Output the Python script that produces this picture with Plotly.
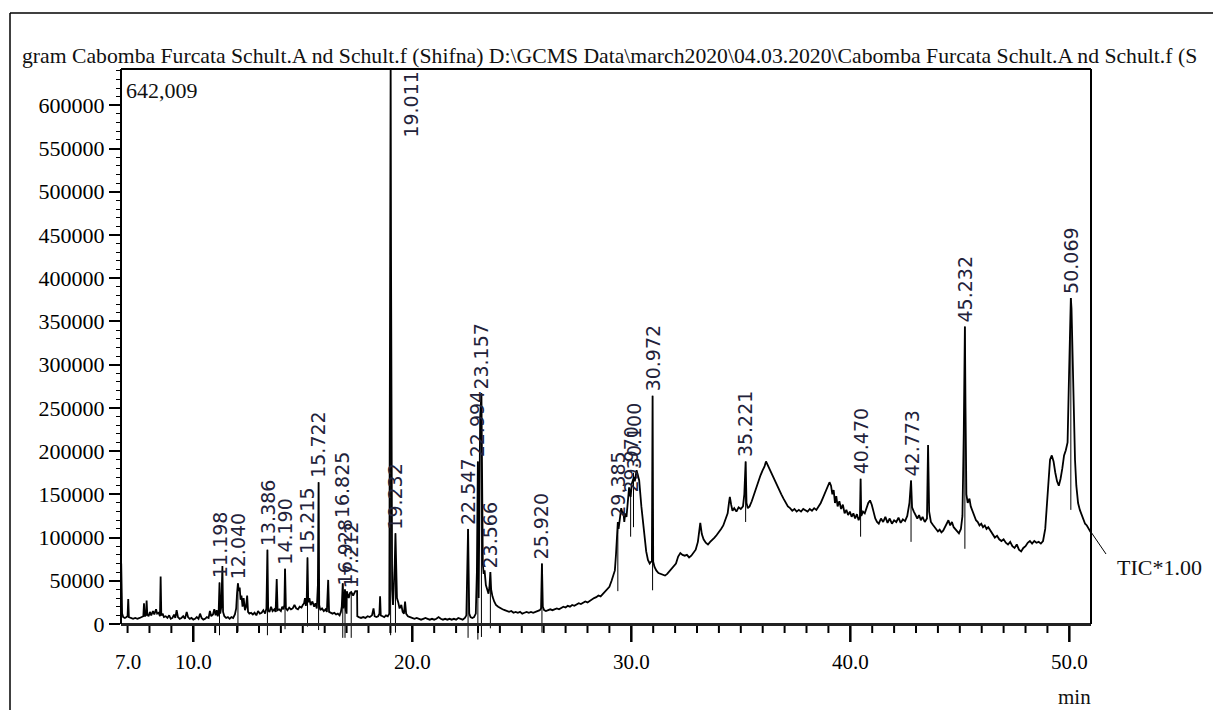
import plotly.graph_objects as go

# ---------------- data ----------------
# retention time (min) / TIC intensity (counts), split into segments
seg1_rt = [6.71, 6.73, 6.75, 6.80, 6.88, 6.95, 7.00, 7.03, 7.06, 7.15,
           7.25, 7.35, 7.45, 7.55, 7.65, 7.72, 7.75, 7.78, 7.84, 7.87,
           7.90, 7.96, 8.02, 8.08, 8.16, 8.22, 8.30, 8.35, 8.42, 8.48,
           8.51, 8.54, 8.60, 8.66, 8.74, 8.82, 8.90, 8.97, 9.05, 9.12,
           9.18, 9.24, 9.30, 9.38, 9.46, 9.54, 9.62, 9.70, 9.76, 9.84,
           9.92, 10.00, 10.08, 10.16, 10.24, 10.31, 10.38, 10.46, 10.54, 10.62,
           10.70, 10.76, 10.82, 10.90, 10.96, 11.02, 11.07, 11.12, 11.16, 11.198,
           11.23, 11.28, 11.33, 11.36, 11.42, 11.50]
seg1_int = [70000, 40000, 12000, 8000, 7000, 8000, 9000, 29000, 8000, 7000,
            6000, 7000, 6000, 7000, 8000, 9000, 24000, 9000, 10000, 27000,
            11000, 9000, 14000, 10000, 15000, 11000, 17000, 12000, 13000, 9000,
            55000, 10000, 12000, 8000, 9000, 7000, 10000, 6000, 7000, 11000,
            7000, 16000, 8000, 6000, 7000, 9000, 6000, 14000, 8000, 6000,
            7000, 5000, 6000, 8000, 6000, 12000, 7000, 5000, 6000, 8000,
            7000, 15000, 9000, 11000, 17000, 10000, 16000, 9000, 14000, 48000,
            12000, 20000, 67000, 14000, 9000, 7000]

seg2_rt = [11.58, 11.66, 11.74, 11.82, 11.90, 11.96, 12.00, 12.04, 12.08, 12.12,
           12.16, 12.20, 12.25, 12.30, 12.36, 12.41, 12.46, 12.50, 12.56, 12.64,
           12.72, 12.80, 12.88, 12.96, 13.04, 13.12, 13.20, 13.28, 13.34, 13.386,
           13.42, 13.48, 13.55, 13.62, 13.70, 13.76, 13.81, 13.85, 13.92, 14.00,
           14.06, 14.12, 14.16, 14.19, 14.23, 14.30, 14.38, 14.46, 14.54, 14.62,
           14.70, 14.78, 14.86, 14.94, 15.00, 15.06, 15.10, 15.14, 15.18, 15.215,
           15.25, 15.30, 15.36, 15.44, 15.52, 15.58, 15.64, 15.69, 15.722, 15.75]
seg2_int = [8000, 6000, 8000, 7000, 11000, 18000, 36000, 47000, 38000, 42000,
            28000, 33000, 20000, 30000, 16000, 20000, 33000, 14000, 12000, 13000,
            11000, 13000, 10000, 15000, 12000, 13000, 16000, 12000, 18000, 86000,
            16000, 14000, 20000, 15000, 17000, 14000, 52000, 16000, 17000, 15000,
            20000, 17000, 22000, 64000, 18000, 16000, 19000, 17000, 18000, 22000,
            18000, 17000, 20000, 19000, 22000, 24000, 30000, 21000, 28000, 77000,
            25000, 30000, 22000, 26000, 20000, 24000, 18000, 45000, 164000, 22000]

seg3_rt = [15.80, 15.88, 15.96, 16.04, 16.10, 16.16, 16.20, 16.28, 16.36, 16.44,
           16.52, 16.60, 16.68, 16.74, 16.78, 16.825, 16.86, 16.90, 16.928, 16.96,
           17.00, 17.01, 17.10, 17.16, 17.212, 17.30, 17.40, 17.48, 17.49, 17.56,
           17.66, 17.76, 17.86, 17.96, 18.06, 18.16, 18.23, 18.28, 18.36, 18.44,
           18.50, 18.53, 18.56, 18.64, 18.72, 18.80, 18.88, 18.95, 18.99, 19.011,
           19.03, 19.05, 19.08, 19.12, 19.16, 19.20, 19.232, 19.26, 19.30, 19.36,
           19.42, 19.50, 19.56, 19.62, 19.67, 19.72, 19.80, 19.90]
seg3_int = [16000, 18000, 15000, 17000, 14000, 51000, 14000, 13000, 12000, 13000,
            11000, 12000, 10000, 14000, 20000, 47000, 18000, 26000, 40000, 16000,
            12000, 38000, 30000, 36000, 37000, 33000, 38000, 38000, 9000, 8000,
            7000, 8000, 7000, 9000, 8000, 10000, 18000, 9000, 8000, 9000,
            12000, 32000, 10000, 9000, 8000, 10000, 9000, 12000, 300000, 642009,
            420000, 180000, 40000, 22000, 40000, 70000, 105000, 60000, 30000, 25000,
            18000, 22000, 14000, 12000, 26000, 12000, 9000, 8000]

seg4_rt = [20.00, 20.10, 20.20, 20.30, 20.40, 20.50, 20.60, 20.70, 20.80, 20.90,
           21.00, 21.10, 21.20, 21.30, 21.40, 21.50, 21.60, 21.70, 21.80, 21.90,
           22.00, 22.10, 22.20, 22.30, 22.40, 22.47, 22.547, 22.60, 22.66, 22.74,
           22.82, 22.90, 22.95, 22.994, 23.03, 23.06, 23.10, 23.157, 23.19, 23.22,
           23.26, 23.30, 23.36, 23.42, 23.48, 23.52, 23.566, 23.60]
seg4_int = [7000, 6000, 7000, 6000, 5000, 6000, 7000, 6000, 5000, 6000,
            5000, 6000, 8000, 6000, 5000, 6000, 5000, 6000, 5000, 6000,
            5000, 7000, 6000, 5000, 7000, 10000, 110000, 12000, 8000, 7000,
            8000, 12000, 60000, 188000, 30000, 90000, 240000, 267000, 150000, 70000,
            58000, 62000, 45000, 40000, 35000, 42000, 60000, 40000]

seg5_rt = [23.66, 23.74, 23.82, 23.92, 24.02, 24.12, 24.22, 24.32, 24.42, 24.52,
           24.62, 24.72, 24.82, 24.92, 25.02, 25.12, 25.22, 25.32, 25.42, 25.52,
           25.62, 25.72, 25.82, 25.88, 25.92, 25.96, 26.02, 26.10, 26.20, 26.30,
           26.40, 26.50, 26.60, 26.70, 26.80, 26.90, 27.00, 27.10, 27.20, 27.30,
           27.40, 27.50, 27.60, 27.70, 27.80, 27.90, 28.00, 28.10, 28.20, 28.30,
           28.40, 28.50, 28.60, 28.70, 28.80, 28.90, 29.00, 29.10, 29.20, 29.25,
           29.30, 29.35]
seg5_int = [32000, 26000, 22000, 20000, 18000, 17000, 16000, 15000, 14000, 15000,
            13000, 14000, 13000, 14000, 12000, 13000, 14000, 13000, 14000, 13000,
            14000, 15000, 16000, 18000, 70000, 20000, 16000, 15000, 16000, 17000,
            16000, 17000, 18000, 17000, 19000, 20000, 19000, 21000, 20000, 22000,
            21000, 23000, 24000, 23000, 25000, 26000, 25000, 27000, 28000, 30000,
            31000, 33000, 32000, 35000, 38000, 41000, 43000, 50000, 58000, 62000,
            80000, 97000]

seg6_rt = [29.385, 29.42, 29.48, 29.54, 29.60, 29.64, 29.68, 29.72, 29.78, 29.84,
           29.90, 29.94, 29.97, 30.02, 30.08, 30.12, 30.16, 30.20, 30.24, 30.30,
           30.36, 30.46, 30.54, 30.61, 30.68, 30.76, 30.84, 30.90, 30.94, 30.972,
           31.00]
seg6_int = [118000, 110000, 125000, 134000, 128000, 130000, 118000, 128000, 124000, 140000,
            158000, 150000, 147000, 162000, 166000, 170000, 165000, 174000, 178000, 172000,
            166000, 136000, 115000, 97000, 84000, 74000, 70000, 72000, 73000, 264000,
            72000]

seg7_rt = [31.06, 31.14, 31.24, 31.34, 31.44, 31.54, 31.64, 31.74, 31.84, 31.94,
           32.04, 32.14, 32.24, 32.34, 32.44, 32.54, 32.64, 32.74, 32.84, 32.94,
           33.04, 33.10, 33.15, 33.22, 33.30, 33.40, 33.50, 33.60, 33.70, 33.80,
           33.90, 34.00, 34.10, 34.20, 34.30, 34.40, 34.46, 34.50, 34.56, 34.62,
           34.70, 34.80, 34.90, 35.00, 35.10, 35.16, 35.221, 35.26, 35.32, 35.40,
           35.50, 35.60, 35.70, 35.80, 35.90, 36.00, 36.08, 36.15, 36.22, 36.30,
           36.38, 36.46, 36.55, 36.65, 36.75, 36.85, 36.95, 37.05, 37.15, 37.25,
           37.35, 37.45, 37.55, 37.65, 37.75, 37.85, 37.95, 38.05, 38.15, 38.25,
           38.35, 38.45, 38.55, 38.65, 38.75, 38.85, 38.95, 39.05, 39.12, 39.18,
           39.24, 39.30, 39.36, 39.42, 39.50, 39.58, 39.66, 39.74, 39.82, 39.90,
           39.98, 40.06, 40.14, 40.22, 40.30, 40.38, 40.44, 40.47, 40.50, 40.58]
seg7_int = [66000, 62000, 59000, 58000, 57000, 56000, 58000, 61000, 64000, 66000,
            70000, 78000, 82000, 80000, 79000, 80000, 77000, 79000, 82000, 86000,
            95000, 110000, 117000, 104000, 98000, 94000, 92000, 95000, 97000, 100000,
            103000, 106000, 110000, 114000, 120000, 128000, 140000, 147000, 138000, 131000,
            134000, 130000, 135000, 133000, 136000, 150000, 188000, 140000, 134000, 136000,
            142000, 150000, 158000, 165000, 172000, 178000, 182000, 188000, 184000, 180000,
            176000, 172000, 166000, 160000, 155000, 150000, 145000, 140000, 136000, 134000,
            131000, 133000, 130000, 132000, 130000, 133000, 131000, 130000, 133000, 131000,
            134000, 132000, 136000, 140000, 146000, 152000, 158000, 164000, 160000, 150000,
            155000, 140000, 148000, 136000, 142000, 133000, 138000, 128000, 132000, 126000,
            130000, 124000, 128000, 122000, 127000, 120000, 124000, 168000, 125000, 130000]

seg8_rt = [40.66, 40.74, 40.82, 40.90, 40.98, 41.06, 41.14, 41.22, 41.30, 41.40,
           41.50, 41.60, 41.70, 41.80, 41.90, 42.00, 42.10, 42.20, 42.30, 42.40,
           42.50, 42.60, 42.70, 42.773, 42.82, 42.90, 42.98, 43.06, 43.14, 43.22,
           43.30, 43.40, 43.50, 43.55, 43.60, 43.68, 43.76, 43.84, 43.92, 44.00,
           44.08, 44.16, 44.24, 44.32, 44.40, 44.48, 44.56, 44.64, 44.72, 44.80,
           44.88, 44.96, 45.05, 45.12, 45.18, 45.232, 45.26]
seg8_int = [128000, 135000, 140000, 143000, 138000, 130000, 122000, 118000, 116000, 122000,
            118000, 124000, 117000, 122000, 116000, 120000, 118000, 123000, 117000, 121000,
            119000, 125000, 140000, 166000, 135000, 130000, 125000, 122000, 126000, 120000,
            124000, 118000, 122000, 207000, 130000, 118000, 115000, 112000, 110000, 107000,
            109000, 106000, 108000, 112000, 116000, 120000, 114000, 118000, 112000, 110000,
            108000, 105000, 110000, 125000, 220000, 344000, 250000]

seg9_rt = [45.30, 45.36, 45.44, 45.50, 45.58, 45.66, 45.74, 45.82, 45.90, 45.98,
           46.06, 46.14, 46.22, 46.30, 46.40, 46.50, 46.60, 46.70, 46.80, 46.90,
           47.00, 47.10, 47.20, 47.30, 47.40, 47.50, 47.60, 47.70, 47.80, 47.90,
           48.00, 48.10, 48.20, 48.30, 48.40, 48.50, 48.60, 48.70, 48.80, 48.90,
           48.98, 49.05, 49.12, 49.20, 49.28, 49.36, 49.44, 49.52, 49.60, 49.68,
           49.76, 49.84, 49.92, 49.98, 50.03, 50.069, 50.10, 50.14, 50.20, 50.26,
           50.32, 50.40, 50.48, 50.56, 50.64, 50.72, 50.80, 50.88, 50.98]
seg9_int = [150000, 140000, 145000, 136000, 130000, 125000, 120000, 118000, 114000, 116000,
            112000, 114000, 110000, 112000, 108000, 104000, 100000, 102000, 98000, 96000,
            98000, 94000, 92000, 95000, 90000, 88000, 92000, 86000, 84000, 88000,
            90000, 94000, 96000, 93000, 96000, 94000, 95000, 93000, 96000, 110000,
            140000, 170000, 190000, 195000, 188000, 175000, 165000, 160000, 168000, 180000,
            195000, 201000, 210000, 280000, 350000, 377000, 365000, 320000, 250000, 190000,
            160000, 140000, 132000, 126000, 122000, 116000, 114000, 110000, 106000]

# labelled peaks: retention time, apex intensity, local baseline intensity
peak_rt = [11.198, 12.040, 13.386, 14.190, 15.215, 15.722, 16.825, 16.928, 17.212,
           19.011, 19.232, 22.547, 22.994, 23.157, 23.566, 25.920, 29.385, 29.970,
           30.100, 30.972, 35.221, 40.470, 42.773, 45.232, 50.069]
peak_height = [48000, 47000, 86000, 64000, 77000, 164000, 47000, 40000, 37000,
               642009, 105000, 110000, 188000, 267000, 60000, 70000, 118000, 147000,
               175000, 264000, 188000, 168000, 166000, 344000, 377000]
peak_base = [5000, 9000, 5000, 12000, 15000, 11000, 2000, 2000, 2000,
             5000, 8000, 2000, 0, 3000, 13000, 8000, 56000, 119000,
             130000, 57000, 136000, 119000, 113000, 105000, 150000]

max_intensity = 642009
y_tick_values = list(range(0, 600001, 50000))
y_minor_values = list(range(0, 640001, 10000))
x_tick_values = [10, 20, 30, 40, 50]
x_tick_text = ["10.0", "20.0", "30.0", "40.0", "50.0"]
x_minor_values = [m for m in range(7, 51) if m % 10]
title_text = ("gram Cabomba Furcata Schult.A nd Schult.f (Shifna) D:\\GCMS Data\\march2020"
              "\\04.03.2020\\Cabomba Furcata Schult.A nd Schult.f (S")

retention_time = (seg1_rt + seg2_rt + seg3_rt + seg4_rt + seg5_rt + seg6_rt
                  + seg7_rt + seg8_rt + seg9_rt)
intensity = (seg1_int + seg2_int + seg3_int + seg4_int + seg5_int + seg6_int
             + seg7_int + seg8_int + seg9_int)

# ---------------- layout geometry (pixels) ----------------
W, H = 1213, 710
L, R, T, B = 121, 122, 69, 62
PW, PH = W - L - R, H - T - B
GAP = 24                      # space below the x axis used by peak markers / ticks
X_RANGE = [6.70, 50.99]
MARK_DROP = 18000
MAJOR_LEN, MINOR_LEN = 18, 9


def px(xp):
    return (xp - L) / PW


def py(yp):
    return (H - B - yp) / PH


x_axis_pos = GAP / PH
units_per_px = max_intensity / (PH - GAP)
y_min_ext = -GAP * units_per_px

SERIF = "Liberation Serif"
LABEL_FONT = dict(family="DejaVu Sans", size=19, color="#22223a")

fig = go.Figure()
fig.add_trace(go.Scatter(x=retention_time, y=intensity, mode="lines",
                         line=dict(color="black", width=1.8), hoverinfo="skip",
                         cliponaxis=False))

mx, my = [], []
for rt, h, b in zip(peak_rt, peak_height, peak_base):
    mx += [rt, rt, None]
    my += [h, b - MARK_DROP, None]
fig.add_trace(go.Scatter(x=mx, y=my, mode="lines", line=dict(color="black", width=1),
                         hoverinfo="skip", connectgaps=False))

# x-axis tick marks hanging below the axis line (major every 10 min, minor every 1 min)
tx_major, ty_major, tx_minor, ty_minor = [], [], [], []
for v in x_tick_values:
    tx_major += [v, v, None]
    ty_major += [0, -MAJOR_LEN * units_per_px, None]
for v in x_minor_values:
    tx_minor += [v, v, None]
    ty_minor += [0, -MINOR_LEN * units_per_px, None]
fig.add_trace(go.Scatter(x=tx_major, y=ty_major, mode="lines", line=dict(color="#000", width=2.5),
                         hoverinfo="skip", connectgaps=False))
fig.add_trace(go.Scatter(x=tx_minor, y=ty_minor, mode="lines", line=dict(color="#000", width=2),
                         hoverinfo="skip", connectgaps=False))

fig.update_layout(
    width=W, height=H,
    margin=dict(l=L, r=R, t=T, b=B, pad=0),
    paper_bgcolor="white", plot_bgcolor="white",
    font=dict(family=SERIF, size=21, color="black"),
    showlegend=False, hovermode=False,
    xaxis=dict(range=X_RANGE, anchor="free", position=x_axis_pos,
               tickmode="array", tickvals=x_tick_values, ticktext=x_tick_text,
               ticks="outside", ticklen=MAJOR_LEN, tickwidth=2, tickcolor="rgba(0,0,0,0)",
               showline=True, linecolor="#222", linewidth=2.5,
               showgrid=False, zeroline=False,
               tickfont=dict(family=SERIF, size=21, color="black")),
    yaxis=dict(range=[y_min_ext, max_intensity],
               tickmode="array", tickvals=y_tick_values,
               ticktext=[str(v) for v in y_tick_values],
               ticks="outside", ticklen=11, tickwidth=1.5, tickcolor="black",
               minor=dict(tickmode="array", tickvals=y_minor_values, ticks="outside",
                          ticklen=4, tickwidth=1, tickcolor="black", showgrid=False),
               showline=False, showgrid=False, zeroline=False,
               tickfont=dict(family=SERIF, size=22, color="black")),
)

ann = []
for rt, h in zip(peak_rt, peak_height):
    a = dict(x=rt, y=h, xref="x", yref="y", text=f"{rt:.3f}", showarrow=False,
             textangle=-90, xanchor="center", yanchor="bottom", yshift=2, font=LABEL_FONT)
    if rt == 19.011:
        a.update(yanchor="top", yshift=-1, xshift=20)
    if rt == 16.825:
        a.update(yshift=63)
    ann.append(a)

ann += [
    dict(x=px(20), y=py(56), xref="paper", yref="paper", text=title_text, showarrow=False,
         xanchor="left", yanchor="middle", font=dict(family=SERIF, size=21.7, color="#111")),
    dict(x=px(124), y=py(90), xref="paper", yref="paper", text="642,009", showarrow=False,
         xanchor="left", yanchor="middle", font=dict(family=SERIF, size=22, color="#111")),
    dict(x=px(1115), y=py(567), xref="paper", yref="paper", text="TIC*1.00", showarrow=False,
         xanchor="left", yanchor="middle", font=dict(family=SERIF, size=22, color="#111")),
    dict(x=px(1074), y=py(697), xref="paper", yref="paper", text="min", showarrow=False,
         xanchor="center", yanchor="middle", font=dict(family=SERIF, size=21, color="#111")),
    dict(x=7, y=py(662), xref="x", yref="paper", text="7.0", showarrow=False,
         xanchor="center", yanchor="middle", font=dict(family=SERIF, size=21, color="black")),
]
fig.update_layout(annotations=ann)

frame = dict(color="black", width=2)
fig.update_layout(shapes=[
    # plot frame: left axis line, top and right
    dict(type="line", xref="paper", yref="paper", x0=0, x1=0, y0=x_axis_pos, y1=1, line=frame),
    dict(type="line", xref="paper", yref="paper", x0=0, x1=1, y0=1, y1=1, line=frame),
    dict(type="line", xref="paper", yref="paper", x0=1, x1=1, y0=x_axis_pos, y1=1, line=frame),
    # outer page frame
    dict(type="line", xref="paper", yref="paper", x0=px(10), x1=px(10), y0=py(13), y1=py(712),
         line=dict(color="black", width=1.5)),
    dict(type="line", xref="paper", yref="paper", x0=px(10), x1=px(1215), y0=py(13), y1=py(13),
         line=dict(color="black", width=1.5)),
    # TIC leader
    dict(type="line", xref="paper", yref="paper", x0=px(1091), x1=px(1106), y0=py(532), y1=py(554),
         line=dict(color="black", width=1)),
])

fig.write_html("out.html", config={"displayModeBar": False},
               post_script="document.body.style.margin='0';document.body.style.overflow='hidden';")
